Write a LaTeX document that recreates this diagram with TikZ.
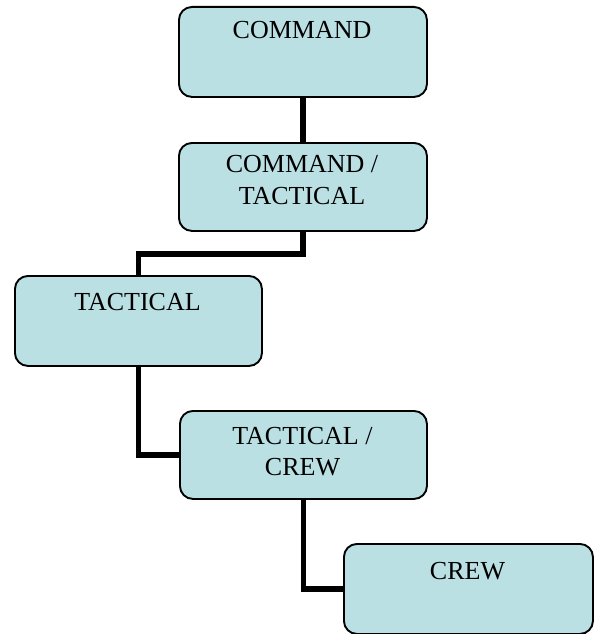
\documentclass[tikz,border=0pt]{standalone}
\usepackage{fontspec}
\setmainfont{Liberation Serif}
\definecolor{boxfill}{RGB}{186,224,228}
\begin{document}
\begin{tikzpicture}[x=1pt,y=-1pt,
  box/.style={draw=black, line width=1.9pt, rounded corners=13pt, fill=boxfill,
    minimum width=248pt, minimum height=89pt, inner sep=0pt, anchor=north west},
  conn/.style={line width=5.5pt, line join=miter},
  lbl/.style={font=\fontsize{26}{32}\selectfont, anchor=base, inner sep=0pt}]
\useasboundingbox (0,0) rectangle (594,634);
% boxes
\node[box, minimum height=90pt] (b1) at (178,6) {};
\node[box, minimum height=88pt] (b2) at (178,142) {};
\node[box, minimum height=90pt, minimum width=247pt] (b3) at (14,275) {};
\node[box, minimum height=88pt, minimum width=247pt] (b4) at (179,410) {};
\node[box, minimum height=90pt, minimum width=249pt] (b5) at (343,543) {};
% connectors
\draw[conn] (b1.south) -- (b2.north);
\draw[conn] (b2.south) -- ++(0,22) -| (b3.north);
\draw[conn] (b3.south) |- (b4.west);
\draw[conn] (b4.south) |- (b5.west);
% labels
\node[lbl] (t1) at (302,38) {COMMAND};
\node[lbl] (t2a) at (302,172) {COMMAND /};
\node[lbl] (t2b) at (302,204) {TACTICAL};
\node[lbl] (t3) at (137.5,310) {TACTICAL};
\node[lbl] (t4a) at (302.5,444) {TACTICAL /};
\node[lbl] (t4b) at (302.5,475) {CREW};
\node[lbl] (t5) at (467.5,579) {CREW};
\end{tikzpicture}
\end{document}
